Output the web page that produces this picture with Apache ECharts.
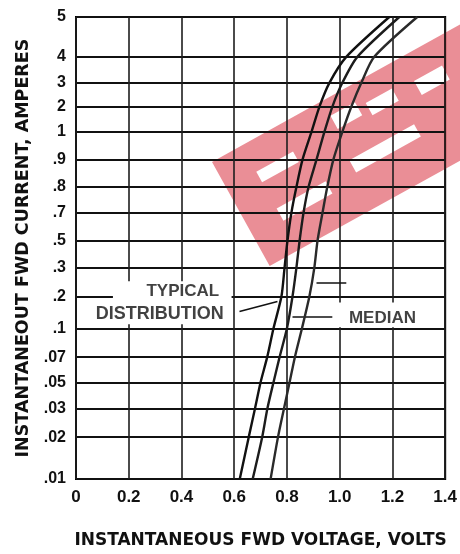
<!DOCTYPE html>
<html><head><meta charset="utf-8">
<script src="https://cdn.jsdelivr.net/npm/echarts@6/dist/echarts.min.js"></script>
<style>html,body{margin:0;padding:0;background:#fff}#c{width:460px;height:554px}</style>
</head><body><div id="c"></div>
<script>
// ---- data ----
const xTickValues = [0, 0.2, 0.4, 0.6, 0.8, 1.0, 1.2, 1.4];
const yTickLabels = ['.01', '.02', '.03', '.05', '.07', '.1', '.2', '.3', '.5', '.7', '.8', '.9', '1', '2', '3', '4', '5'];
const yTickValues = [0.01, 0.02, 0.03, 0.05, 0.07, 0.1, 0.2, 0.3, 0.5, 0.7, 0.8, 0.9, 1, 2, 3, 4, 5];
// the scanned grid is not a true log scale: each tick sits on its own row of the axis
const yTickRows = [0, 1.45, 2.45, 3.35, 4.22, 5.22, 6.32, 7.33, 8.26, 9.23, 10.12, 11.06, 12.02, 12.89, 13.72, 14.62, 16];
const curveCurrents = [0.01, 0.02, 0.03, 0.05, 0.07, 0.1, 0.2, 0.3, 0.5, 0.7, 0.8, 0.9, 1, 2, 3, 4, 5];
const typicalLowV  = [0.621, 0.655, 0.679, 0.700, 0.725, 0.749, 0.779, 0.791, 0.802, 0.817, 0.836, 0.859, 0.893, 0.923, 0.961, 1.025, 1.188];
const medianV      = [0.670, 0.706, 0.726, 0.749, 0.772, 0.800, 0.821, 0.836, 0.848, 0.863, 0.882, 0.912, 0.942, 0.972, 1.010, 1.067, 1.226];
const typicalHighV = [0.738, 0.766, 0.789, 0.810, 0.830, 0.857, 0.885, 0.904, 0.916, 0.935, 0.953, 0.976, 1.010, 1.044, 1.082, 1.131, 1.294];

// current -> axis row (log interpolation between neighbouring ticks)
function toRow(I) {
  for (let i = 0; i < yTickValues.length - 1; i++) {
    const a = yTickValues[i], b = yTickValues[i + 1];
    if (I >= a && I <= b) {
      const f = Math.log(I / a) / Math.log(b / a);
      return yTickRows[i] + f * (yTickRows[i + 1] - yTickRows[i]);
    }
  }
  return I < yTickValues[0] ? 0 : yTickRows[yTickRows.length - 1];
}
function curve(vs) { return vs.map((v, i) => [v, toRow(curveCurrents[i])]); }

const FONT = 'Liberation Sans';
const TITLE_FONT = 'DejaVu Sans';
const INK = '#111';

const curveSeries = [typicalLowV, medianV, typicalHighV].map((vs, k) => ({
  type: 'line', data: curve(vs), showSymbol: false, smooth: 0.25, z: 5,
  lineStyle: { color: ['#111', '#1c1c1c', '#2a2a2a'][k], width: 2.4 },
  silent: true, animation: false
}));

// watermark (local coordinates of a rotated band, with notches cut out)
const bandL = 320, bandH = 119;
const notches = [[34, 30, 42, 12], [34, 72, 56, 14], [126, 17, 28, 15], [121, 65, 74, 14], [163, 23, 30, 14], [216, 27, 32, 16]];
function bandPoints() {
  const pts = [[0, 0]];
  notches.slice().sort((a, b) => a[0] - b[0]).forEach(n => {
    const [x, y, w, h] = n;
    pts.push([x, 0], [x, y], [x, y + h], [x + w, y + h], [x + w, y], [x, y], [x, 0]);
  });
  pts.push([bandL, 0], [bandL, bandH], [0, bandH]);
  return pts;
}

const option = {
  backgroundColor: '#fff',
  animation: false,
  grid: { left: 76, right: 14, top: 17, bottom: 74, show: true, borderColor: '#000', borderWidth: 2, backgroundColor: 'transparent' },
  xAxis: {
    type: 'value', min: 0, max: 1.4, interval: 0.2,
    axisLine: { show: false }, axisTick: { show: false },
    splitLine: { show: true, lineStyle: { color: '#1e1e1e', width: 1.6 } },
    axisLabel: {
      margin: 10, color: INK, fontSize: 17, fontWeight: 'bold', fontFamily: FONT,
      formatter: v => (Math.abs(v) < 1e-9 ? '0' : v.toFixed(1))
    },
    name: 'INSTANTANEOUS FWD VOLTAGE, VOLTS', nameLocation: 'middle', nameGap: 53,
    nameTextStyle: { color: INK, fontSize: 17, fontWeight: 'bold', fontFamily: TITLE_FONT }
  },
  yAxis: {
    type: 'value', min: 0, max: 16,
    axisLine: { show: false },
    axisTick: { show: false, customValues: yTickRows },
    splitLine: { show: true, lineStyle: { color: '#111', width: 1.8 } },
    axisLabel: {
      customValues: yTickRows, margin: 10, color: INK, fontSize: 16, fontWeight: 'bold', fontFamily: FONT,
      formatter: v => {
        let best = 0;
        yTickRows.forEach((r, i) => { if (Math.abs(r - v) < Math.abs(yTickRows[best] - v)) best = i; });
        return yTickLabels[best];
      }
    },
    name: 'INSTANTANEOUT FWD CURRENT, AMPERES', nameLocation: 'middle', nameGap: 44, nameRotate: 90,
    nameTextStyle: { color: INK, fontSize: 17.5, fontWeight: 'bold', fontFamily: TITLE_FONT }
  },
  series: [
    {
      // white label boxes behind the annotation texts
      type: 'line', data: [], z: 3, silent: true,
      markArea: {
        silent: true, itemStyle: { color: '#fff', opacity: 1 }, label: { show: false },
        data: [
          [{ coord: [0.14, toRow(0.109)] }, { coord: [0.59, toRow(0.247)] }],
          [{ coord: [0.991, toRow(0.1022)] }, { coord: [1.347, toRow(0.1755)] }]
        ]
      }
    },
    ...curveSeries,
    {
      type: 'scatter', symbolSize: 0, z: 6, silent: true,
      label: { show: true, position: 'inside', formatter: '{b}', color: INK, fontSize: 17, fontWeight: 'bold', fontFamily: FONT },
      data: [
        { name: 'TYPICAL', value: [0.405, toRow(0.2158)] },
        { name: 'DISTRIBUTION', value: [0.318, toRow(0.1354)], label: { fontSize: 18 } },
        { name: 'MEDIAN', value: [1.162, toRow(0.1255)] }
      ],
      markLine: {
        silent: true, symbol: ['none', 'arrow'], symbolSize: [0, 8], label: { show: false },
        lineStyle: { color: INK, width: 1.5, type: 'solid' },
        data: [
          [{ coord: [0.620, toRow(0.144)] }, { coord: [0.764, toRow(0.179)] }],
          [{ coord: [0.972, toRow(0.1297)] }, { coord: [0.821, toRow(0.1297)] }],
          [{ coord: [1.025, toRow(0.2432)] }, { coord: [0.912, toRow(0.2432)] }]
        ]
      }
    }
  ],
  graphic: [{
    type: 'group', x: 212, y: 162, rotation: 0.506, silent: true, z: 100,
    children: [{ type: 'polygon', shape: { points: bandPoints() }, style: { fill: 'rgba(214,30,45,0.5)' } }]
  }]
};

const chart = echarts.init(document.getElementById('c'), null, { renderer: 'canvas' });
chart.setOption(option);
</script></body></html>
